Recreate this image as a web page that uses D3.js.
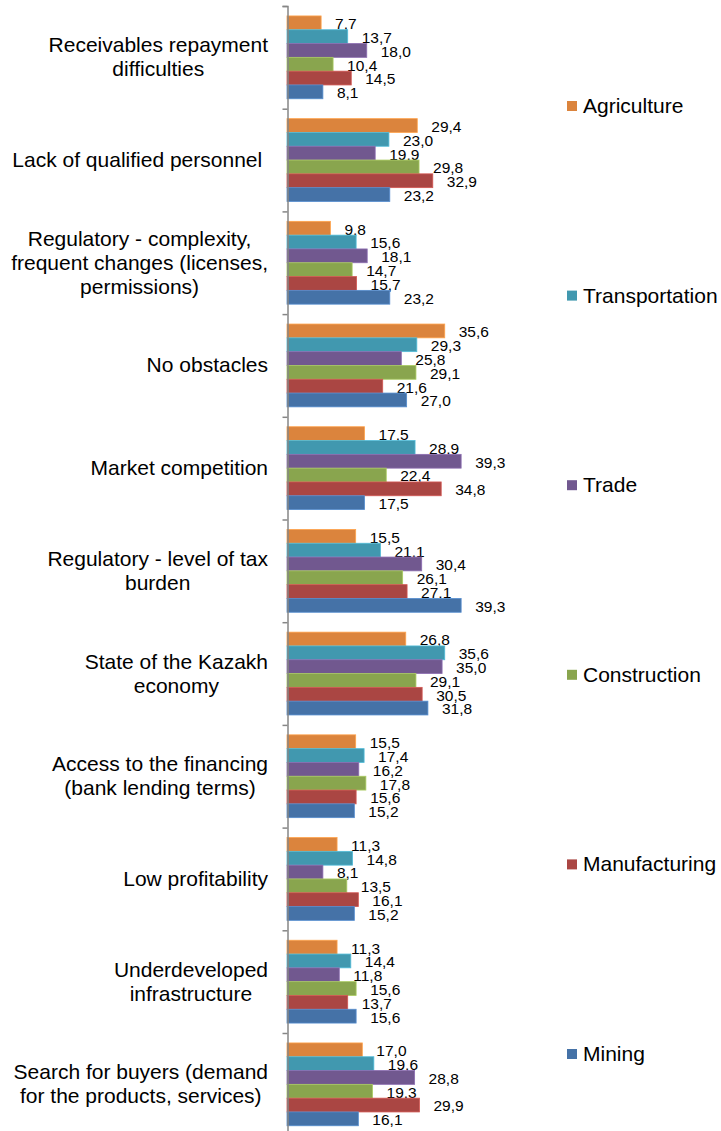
<!DOCTYPE html>
<html>
<head>
<meta charset="utf-8">
<script src="https://cdn.jsdelivr.net/npm/d3@7"></script>
<style>
  body { margin: 0; background: #fff; }
  text { font-family: "Liberation Sans", Arial, sans-serif; fill: #000; white-space: pre; }
</style>
</head>
<body>
<script>
// categories top to bottom, "\n" = line break in the label
var categories = [
  "Receivables repayment\ndifficulties",
  "Lack of qualified personnel ",
  "Regulatory - complexity,\nfrequent changes (licenses,\npermissions)",
  "No obstacles",
  "Market competition",
  "Regulatory - level of tax\nburden",
  "State of the Kazakh\neconomy",
  "Access to the financing\n(bank lending terms)",
  "Low profitability",
  "Underdeveloped\ninfrastructure",
  "Search for buyers (demand\nfor the products, services)"
];

var series = ["Agriculture", "Transportation", "Trade", "Construction", "Manufacturing", "Mining"];
var colors = ["#DB843D", "#4198AF", "#71588F", "#89A54E", "#AA4643", "#4572A7"];

var agriculture    = [7.7, 29.4, 9.8, 35.6, 17.5, 15.5, 26.8, 15.5, 11.3, 11.3, 17.0];
var transportation = [13.7, 23.0, 15.6, 29.3, 28.9, 21.1, 35.6, 17.4, 14.8, 14.4, 19.6];
var trade          = [18.0, 19.9, 18.1, 25.8, 39.3, 30.4, 35.0, 16.2, 8.1, 11.8, 28.8];
var construction   = [10.4, 29.8, 14.7, 29.1, 22.4, 26.1, 29.1, 17.8, 13.5, 15.6, 19.3];
var manufacturing  = [14.5, 32.9, 15.7, 21.6, 34.8, 27.1, 30.5, 15.6, 16.1, 13.7, 29.9];
var mining         = [8.1, 23.2, 23.2, 27.0, 17.5, 39.3, 31.8, 15.2, 15.2, 15.6, 16.1];

var values = [agriculture, transportation, trade, construction, manufacturing, mining];

var width = 721, height = 1131;

var svg = d3.select("body").append("svg")
  .attr("width", width)
  .attr("height", height);

var xScale = d3.scaleLinear().domain([0, 45]).range([287, 486.4]);
var yScale = d3.scaleBand().domain(d3.range(categories.length)).range([6, 1135.7]);
var yInner = d3.scaleBand().domain(series)
  .range([0, yScale.bandwidth()])
  .paddingInner(0).paddingOuter(0.72);

var fmt = d3.formatLocale({decimal: ",", thousands: " ", grouping: [3], currency: ["", ""]}).format(".1f");

// bars
var groups = svg.append("g").selectAll("g")
  .data(categories)
  .enter()
  .append("g")
  .attr("transform", function(d, i){ return "translate(0," + yScale(i) + ")"; });

series.forEach(function(s, si){
  groups.append("rect")
    .attr("x", xScale(0))
    .attr("y", yInner(s))
    .attr("width", function(d, i){ return xScale(values[si][i]) - xScale(0); })
    .attr("height", yInner.bandwidth())
    .attr("fill", colors[si])
    .attr("stroke", d3.color(colors[si]).brighter(0.6))
    .attr("stroke-width", 0.8);

  groups.append("text")
    .attr("x", function(d, i){ return xScale(values[si][i]) + 14; })
    .attr("y", yInner(s) + yInner.bandwidth() - 0.5)
    .style("font-size", "15.5px")
    .text(function(d, i){ return fmt(values[si][i]); });
});

// axis line with ticks at category boundaries
var axisScale = d3.scaleLinear().domain([0, categories.length]).range([6, 1135.7]);
var yAxis = d3.axisLeft(axisScale).ticks(categories.length).tickSize(5).tickFormat("");
var axisG = svg.append("g").attr("transform", "translate(287.5,0)").call(yAxis);
axisG.select(".domain").attr("stroke", "#868686").attr("stroke-width", 1.5);
axisG.selectAll(".tick line").attr("stroke", "#868686").attr("stroke-width", 1.5);

// category labels, each line centered in a block right-aligned near the axis
var labelRight = 268, lineH = 24;
categories.forEach(function(c, i){
  var lines = c.split("\n");
  var g = svg.append("g");
  var texts = g.selectAll("text").data(lines).enter().append("text")
    .style("font-size", "21px")
    .attr("text-anchor", "middle")
    .attr("y", function(d, li){
      return yScale(i) + yScale.bandwidth() / 2 + (li - (lines.length - 1) / 2) * lineH + 7;
    })
    .text(function(d){ return d; });
  var maxW = d3.max(texts.nodes(), function(n){ return n.getComputedTextLength(); });
  texts.attr("x", labelRight - maxW / 2);
});

// legend
var legendY = d3.scalePoint().domain(series).range([106, 1054]);
var legend = svg.append("g").selectAll("g")
  .data(series)
  .enter()
  .append("g")
  .attr("transform", function(d){ return "translate(567," + legendY(d) + ")"; });

legend.append("rect")
  .attr("x", 0).attr("y", -5)
  .attr("width", 10).attr("height", 10)
  .attr("fill", function(d, i){ return colors[i]; });

legend.append("text")
  .attr("x", 16).attr("y", 7)
  .style("font-size", "21px")
  .text(function(d){ return d; });
</script>
</body>
</html>
